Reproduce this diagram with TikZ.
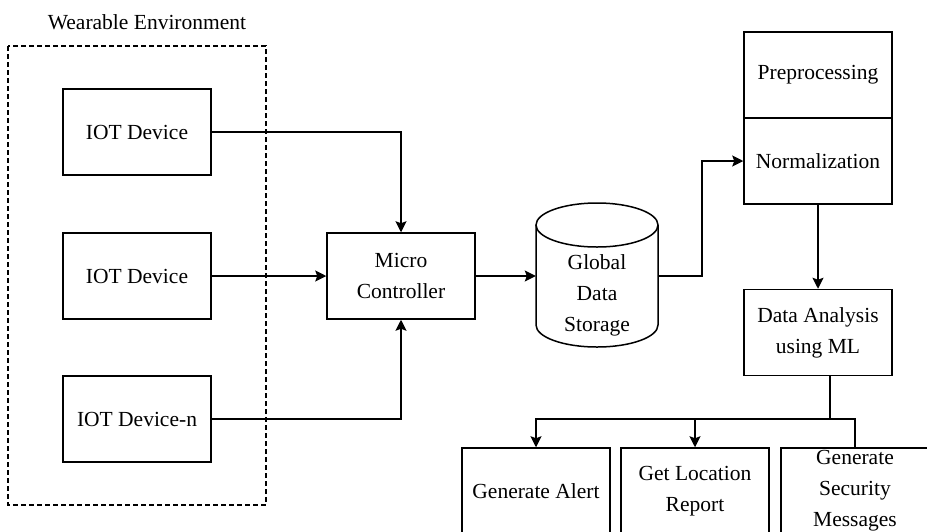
\documentclass[tikz,border=0pt]{standalone}
\usepackage{fontspec}
\setmainfont{Liberation Serif}
\usetikzlibrary{arrows.meta}

\begin{document}
\begin{tikzpicture}[x=1pt,y=-1pt,
  font=\fontsize{21.5}{31}\selectfont,
  block/.style={draw,line width=1.5pt,minimum width=148pt,minimum height=86pt,align=center,inner sep=2pt},
  arr/.style={line width=1.5pt,-{Stealth[length=11pt,width=11pt,inset=2pt]}},
  wire/.style={line width=1.5pt}]
\clip (0,0) rectangle (927,531);
\useasboundingbox (0,0) rectangle (927,531);
% wearable side
\draw[line width=1.2pt,dash pattern=on 5pt off 3pt] (8,46) rectangle (266,505);
\node (envlabel) at (147,22) {Wearable Environment};
\node[block] (dev1) at (137,132) {IOT Device};
\node[block] (dev2) at (137,276) {IOT Device};
\node[block] (devn) at (137,419) {IOT Device-n};
\node[block] (mc) at (401,276) {Micro\\Controller};
% storage
\node[minimum width=122pt,minimum height=144pt] (gds) at (597,276) {};
\node[align=center] (gdstext) at (597,295) {Global\\Data\\Storage};
\draw[line width=1.5pt] (536,225) -- (536,325) arc[start angle=180,end angle=360,x radius=61pt,y radius=22pt] -- (658,225);
\draw[line width=1.5pt] (597,225) ellipse [x radius=61pt,y radius=22pt];
% processing
\node[block] (pre) at (818,75) {Preprocessing};
\node[block] (norm) at (818,161) {Normalization};
\node[block] (dal) at (818,332.5) {Data Analysis\\using ML};
\node[block] (alert) at (536,491) {Generate Alert};
\node[block] (loc) at (695,491) {Get Location\\Report};
\node[block] (sec) at (855,491) {Generate\\Security\\Messages};
\coordinate (split) at (830,419);
\coordinate (bend) at (702,276);
% connectors
\draw[arr] (dev1.east) -| (mc.north);
\draw[arr] (dev2.east) -- (mc.west);
\draw[arr] (devn.east) -| (mc.south);
\draw[arr] (mc.east) -- (gds.west);
\draw[arr] (gds.east) -- (bend) |- (norm.west);
\draw[arr] (norm.south) -- (dal.north);
\draw[wire] (dal.south -| split) -- (split);
\draw[arr] (split) -| (alert.north);
\draw[arr] (split -| loc.north) -- (loc.north);
\draw[wire] (split) -| (sec.north);
\end{tikzpicture}
\end{document}
